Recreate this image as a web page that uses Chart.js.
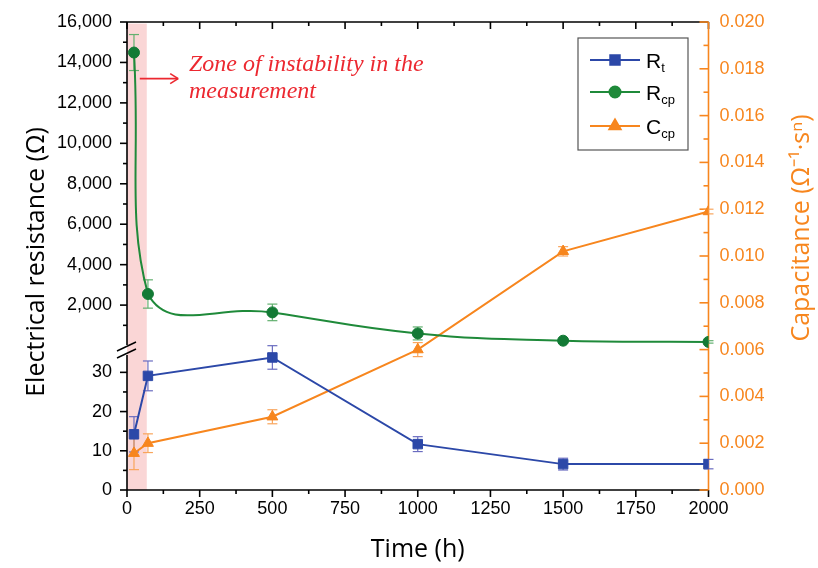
<!DOCTYPE html>
<html>
<head>
<meta charset="utf-8">
<script src="https://cdn.jsdelivr.net/npm/chart.js@4.4.1/dist/chart.umd.min.js"></script>
<style>
  html, body { margin: 0; padding: 0; background: #fff; }
  #wrap { width: 818px; height: 568px; }
</style>
</head>
<body>
<div id="wrap"><canvas id="chart" width="818" height="568"></canvas></div>
<script>
'use strict';

// time of immersion (h)
const hours = [24, 72, 500, 1000, 1500, 2000];

// R_t (Ω) - lower part of the broken left axis
const rt    = [14.2, 29.1, 33.8, 11.7, 6.6, 6.6];
const rtErr = [4.5, 3.8, 3.0, 1.9, 1.5, 1.2];

// R_cp (Ω) - upper part of the broken left axis
const rcp    = [14490, 2550, 1640, 600, 240, 180];
const rcpErr = [890, 700, 410, 320, 80, 60];

// C_cp (Ω^-1·s^n) - right axis
const ccp    = [0.00157, 0.0020, 0.00313, 0.0060, 0.0102, 0.0119];
const ccpErr = [0.0007, 0.0004, 0.0003, 0.0003, 0.0002, 0.0001];

const xTicks    = [0, 250, 500, 750, 1000, 1250, 1500, 1750, 2000];
const lowTicks  = [0, 10, 20, 30];
const highTicks = [2000, 4000, 6000, 8000, 10000, 12000, 14000, 16000];

// shaded zone of instability (h)
const zoneHours = [0, 68];

const BLUE   = '#2C48A8';
const GREEN  = '#1F8A3A';
const ORANGE = '#F7861E';
const RED    = '#EC2830';
const TICK_FONT = { family: '"Liberation Sans", Arial, sans-serif', size: 18 };

const pts = vals => hours.map((h, i) => ({ x: h, y: vals[i] }));

function line(ctx, x0, y0, x1, y1) {
  ctx.beginPath();
  ctx.moveTo(x0, y0);
  ctx.lineTo(x1, y1);
  ctx.stroke();
}

const errSets = [
  { vals: rcp, err: rcpErr, axis: 'yHigh', color: '#62B06F' },
  { vals: rt,  err: rtErr,  axis: 'yLow',  color: '#6A6CC0' },
  { vals: ccp, err: ccpErr, axis: 'yR',    color: '#F9A55C' },
];

const frame = {
  id: 'frame',
  beforeDatasetsDraw(chart) {
    const { ctx, chartArea: a, scales } = chart;
    const { x, yLow, yHigh, yR } = scales;
    ctx.save();

    // pink band
    const x0 = x.getPixelForValue(zoneHours[0]);
    const x1 = x.getPixelForValue(zoneHours[1]);
    const top = yHigh.getPixelForValue(15920);
    ctx.fillStyle = '#FAD6D6';
    ctx.fillRect(x0, top, x1 - x0, yLow.getPixelForValue(0) - top);

    // black frame
    ctx.strokeStyle = '#000';
    ctx.lineWidth = 1.6;
    const brk = yLow.top;
    line(ctx, a.left, a.bottom, a.right, a.bottom);
    line(ctx, a.left, a.top, a.right, a.top);
    line(ctx, a.left, a.top, a.left, brk - 5);
    line(ctx, a.left, brk + 5, a.left, a.bottom);

    for (let h = 0; h <= 2000; h += 125) {
      const px = x.getPixelForValue(h);
      const len = h % 250 === 0 ? 7 : 4;
      line(ctx, px, a.bottom, px, a.bottom + len);
      line(ctx, px, a.top, px, a.top + len);
    }
    for (let v = 0; v <= 30; v += 5) {
      const py = yLow.getPixelForValue(v);
      line(ctx, a.left - (v % 10 === 0 ? 7 : 4), py, a.left, py);
    }
    for (let v = 1000; v <= 16000; v += 1000) {
      const py = yHigh.getPixelForValue(v);
      line(ctx, a.left - (v % 2000 === 0 ? 7 : 4), py, a.left, py);
    }
    // axis break
    ctx.lineWidth = 1.4;
    line(ctx, a.left - 10, brk + 1, a.left + 9, brk - 8);
    line(ctx, a.left - 10, brk + 8, a.left + 9, brk - 1);

    // orange right axis
    ctx.strokeStyle = ORANGE;
    ctx.lineWidth = 1.6;
    line(ctx, a.right, a.top, a.right, a.bottom);
    for (let i = 0; i <= 20; i++) {
      const py = yR.getPixelForValue(i * 0.001);
      line(ctx, a.right - (i % 2 === 0 ? 9 : 5), py, a.right, py);
    }

    // error bars
    ctx.lineWidth = 1.2;
    errSets.forEach(s => {
      const sc = scales[s.axis];
      ctx.strokeStyle = s.color;
      hours.forEach((h, i) => {
        const px = x.getPixelForValue(h);
        const yt = sc.getPixelForValue(s.vals[i] + s.err[i]);
        const yb = sc.getPixelForValue(s.vals[i] - s.err[i]);
        line(ctx, px, yt, px, yb);
        line(ctx, px - 5, yt, px + 5, yt);
        line(ctx, px - 5, yb, px + 5, yb);
      });
    });
    ctx.restore();
  },
  afterDraw(chart) {
    const { ctx, chartArea: a, scales: { x, yHigh } } = chart;
    ctx.save();

    // annotation
    ctx.strokeStyle = RED;
    ctx.fillStyle = RED;
    ctx.lineWidth = 1.6;
    const ay = yHigh.getPixelForValue(13200);
    const ax0 = x.getPixelForValue(44), ax1 = x.getPixelForValue(176);
    line(ctx, ax0, ay, ax1, ay);
    line(ctx, ax1 - 8, ay - 5, ax1, ay);
    line(ctx, ax1 - 8, ay + 5, ax1, ay);
    ctx.font = 'italic 24px "Liberation Serif", "Times New Roman", serif';
    ctx.textAlign = 'left';
    ctx.textBaseline = 'middle';
    const tx = x.getPixelForValue(213);
    ctx.fillText('Zone of instability in the', tx, yHigh.getPixelForValue(13900));
    ctx.fillText('measurement', tx, yHigh.getPixelForValue(12560));

    // legend
    const lx = 578, ly = 38;
    ctx.strokeStyle = '#555';
    ctx.lineWidth = 1.2;
    ctx.strokeRect(lx, ly, 110, 112);
    const items = [
      { main: 'R', sub: 't',  color: BLUE,   style: 'rect',     r: 6.7, y: 60 },
      { main: 'R', sub: 'cp', color: GREEN,  style: 'circle',   r: 5.5, y: 92 },
      { main: 'C', sub: 'cp', color: ORANGE, style: 'triangle', r: 6.5, y: 126 },
    ];
    items.forEach(it => {
      ctx.strokeStyle = it.color;
      ctx.fillStyle = it.color;
      ctx.lineWidth = 2;
      line(ctx, 590, it.y, 640, it.y);
      Chart.helpers.drawPoint(ctx, { pointStyle: it.style, radius: it.r, rotation: 0, borderWidth: 1 }, 615, it.y);
      ctx.fill();
      ctx.fillStyle = '#000';
      ctx.textBaseline = 'alphabetic';
      ctx.font = '21px "Liberation Sans", Arial, sans-serif';
      ctx.fillText(it.main, 646, it.y + 7.5);
      const w = ctx.measureText(it.main).width;
      ctx.font = '13px "Liberation Sans", Arial, sans-serif';
      ctx.fillText(it.sub, 646 + w, it.y + 12);
    });

    // axis titles
    ctx.textAlign = 'center';
    ctx.textBaseline = 'middle';
    ctx.fillStyle = '#000';
    ctx.font = '25px "Open Sans", sans-serif';
    ctx.fillText('Time (h)', (a.left + a.right) / 2, 550);
    ctx.save();
    ctx.translate(37, 262);
    ctx.rotate(-Math.PI / 2);
    ctx.fillText('Electrical resistance (Ω)', 0, 0);
    ctx.restore();
    ctx.save();
    ctx.fillStyle = ORANGE;
    ctx.translate(802, 228);
    ctx.rotate(-Math.PI / 2);
    ctx.fillText('Capacitance (Ω⁻¹·sⁿ)', 0, 0);
    ctx.restore();

    ctx.restore();
  }
};

const noGrid = { display: false };
const noBorder = { display: false };

new Chart(document.getElementById('chart'), {
  type: 'line',
  data: {
    datasets: [
      {
        label: 'Rt', data: pts(rt), yAxisID: 'yLow',
        borderColor: BLUE, backgroundColor: BLUE, borderWidth: 2, tension: 0,
        pointStyle: 'rect', pointRadius: 6.7, pointBorderWidth: 1,
      },
      {
        label: 'Rcp', data: pts(rcp), yAxisID: 'yHigh',
        borderColor: GREEN, backgroundColor: '#137A35', borderWidth: 2, tension: 0.45,
        pointStyle: 'circle', pointRadius: 5.5, pointBorderWidth: 1, pointBorderColor: '#137A35',
      },
      {
        label: 'Ccp', data: pts(ccp), yAxisID: 'yR',
        borderColor: ORANGE, backgroundColor: ORANGE, borderWidth: 2, tension: 0,
        pointStyle: 'triangle', pointRadius: 6.3, pointBorderWidth: 1,
      },
    ],
  },
  options: {
    responsive: false,
    animation: false,
    layout: { padding: { top: 22, left: 0, right: 0, bottom: 0 } },
    plugins: { legend: { display: false }, tooltip: { enabled: false } },
    scales: {
      x: {
        type: 'linear', position: 'bottom', min: 0, max: 2000,
        grid: noGrid, border: noBorder,
        afterBuildTicks: s => { s.ticks = xTicks.map(v => ({ value: v })); },
        afterFit: s => { s.height = 78; },
        ticks: { font: TICK_FONT, color: '#000', padding: 0, callback: v => String(v), maxRotation: 0 },
      },
      yLow: {
        type: 'linear', position: 'left', stack: 'left', stackWeight: 140, weight: 0,
        min: 0, max: 35.7,
        grid: noGrid, border: noBorder,
        afterBuildTicks: s => { s.ticks = lowTicks.map(v => ({ value: v })); },
        afterFit: s => { s.width = 127; },
        ticks: { font: TICK_FONT, color: '#000', padding: 7, callback: v => String(v) },
      },
      yHigh: {
        type: 'linear', position: 'left', stack: 'left', stackWeight: 328, weight: 1,
        min: -220, max: 16000,
        grid: noGrid, border: noBorder,
        afterBuildTicks: s => { s.ticks = highTicks.map(v => ({ value: v })); },
        afterFit: s => { s.width = 127; },
        ticks: { font: TICK_FONT, color: '#000', padding: 7, callback: v => v.toLocaleString('en-US') },
      },
      yR: {
        type: 'linear', position: 'right', min: 0, max: 0.02,
        grid: noGrid, border: noBorder,
        afterFit: s => { s.width = 109.5; },
        ticks: { font: TICK_FONT, color: ORANGE, padding: 3, stepSize: 0.002, callback: v => v.toFixed(3) },
      },
    },
  },
  plugins: [frame],
});
</script>
</body>
</html>
